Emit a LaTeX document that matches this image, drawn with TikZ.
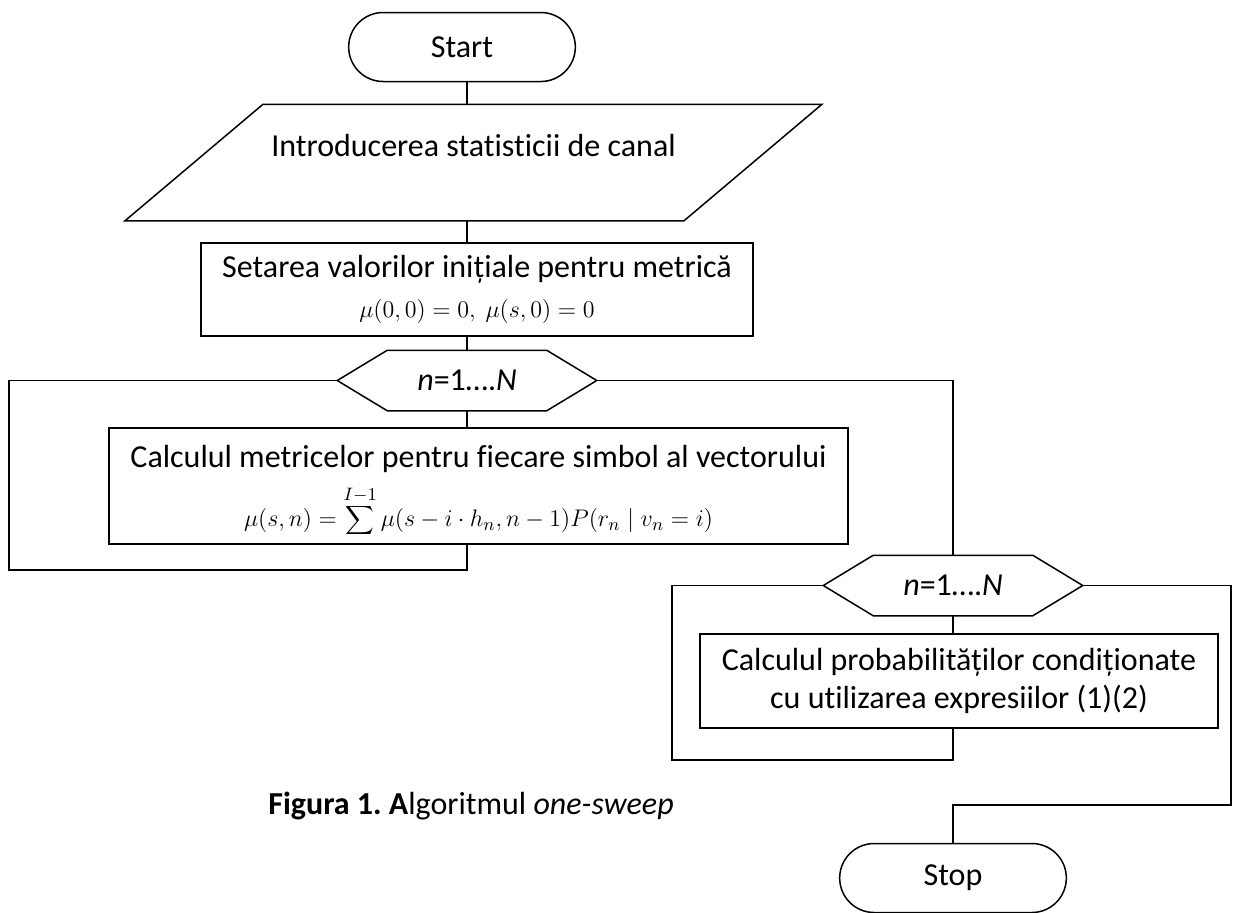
\documentclass[tikz,border=0pt]{standalone}
\usepackage{fontspec}
\setmainfont[Ligatures=NoCommon]{Carlito}
\usepackage{tikz}
\usetikzlibrary{shapes.misc}
\usetikzlibrary{calc}
\tikzset{terminal/.style={draw, rounded rectangle, minimum width=120pt, minimum height=34.5pt},
  box/.style={draw, align=center, inner sep=0pt},
  hexbox/.style={inner sep=0pt, minimum width=129pt, minimum height=29.5pt}}
\newcommand{\drawhex}[1]{\draw (#1.west) -- ($(#1.north west)+(50,0)$) -- ($(#1.north east)+(-50,0)$)
  -- (#1.east) -- ($(#1.south east)+(-50,0)$) -- ($(#1.south west)+(50,0)$) -- cycle;}
\newcommand{\mathsize}{\fontsize{13}{15}\selectfont}
\frenchspacing

\begin{document}
\begin{tikzpicture}[x=0.5pt, y=-0.5pt, line width=0.75pt, font=\fontsize{16}{19}\selectfont]
  \useasboundingbox (0, 0) rectangle (1234, 912);

  \node[terminal] at (462, 47) (start) {Start};

  % parallelogramme d'entree
  \node[inner sep=0pt, minimum width=278.75pt, minimum height=57.5pt, text depth=17pt] at (473.5, 162.5) (intro) {Introducerea statisticii de canal};
  \draw ($(intro.north west)+(69, 0)$) -- ($(intro.north east)+(69, 0)$) -- ($(intro.south east)+(-69, 0)$) -- ($(intro.south west)+(-69, 0)$) -- cycle;

  \node[box, minimum width=276pt, minimum height=46.5pt] at (477, 289.5) (init)
    {Setarea valorilor inițiale pentru metrică\\[1pt] {\mathsize$\mu(0,0)=0,\ \mu(s,0)=0$}};

  \node[hexbox] at (467, 380.5) (loopA) {\textit{n}=1….\textit{N}};
  \drawhex{loopA}

  \node[box, minimum width=369.5pt, minimum height=58pt, text depth=0pt] at (478.5, 486) (metric)
    {Calculul metricelor pentru fiecare simbol al vectorului\\[6pt]
     {\mathsize$\displaystyle\mu(s,n)=\sum\limits^{I-1}\mu(s-i\cdot h_n,n-1)P(r_n\mid v_n=i)$}};

  \node[hexbox] at (953, 585.5) (loopB) {\textit{n}=1….\textit{N}};
  \drawhex{loopB}

  \node[box, minimum width=259pt, minimum height=47pt] at (959, 681) (prob)
    {Calculul probabilităților condiționate\\cu utilizarea expresiilor (1)(2)};

  \node[terminal] at (953, 878) (stop) {Stop};

  \node at (471, 806) (caption) {\textbf{Figura 1. A}lgoritmul \textit{one-sweep}};

  % axe principal
  \coordinate (axis) at (467, 0);
  \draw (start.south -| axis) -- (intro.north -| axis);
  \draw (intro.south -| axis) -- (init.north -| axis);
  \draw (init.south -| axis) -- (loopA.north);
  \draw (loopA.south) -- (metric.north -| loopA);

  % boucle 1
  \coordinate (backA) at (9, 570);
  \draw (loopA.west) -| (backA) -| (metric.south -| loopA);
  \draw (loopA.east) -| (loopB.north);

  % boucle 2
  \coordinate (backB) at (672, 760);
  \coordinate (exitB) at (1231, 805);
  \draw (loopB.south) -- (prob.north -| loopB);
  \draw (loopB.west) -| (backB) -| (prob.south -| loopB);
  \draw (loopB.east) -| (exitB) -| (stop.north);
\end{tikzpicture}
\end{document}
